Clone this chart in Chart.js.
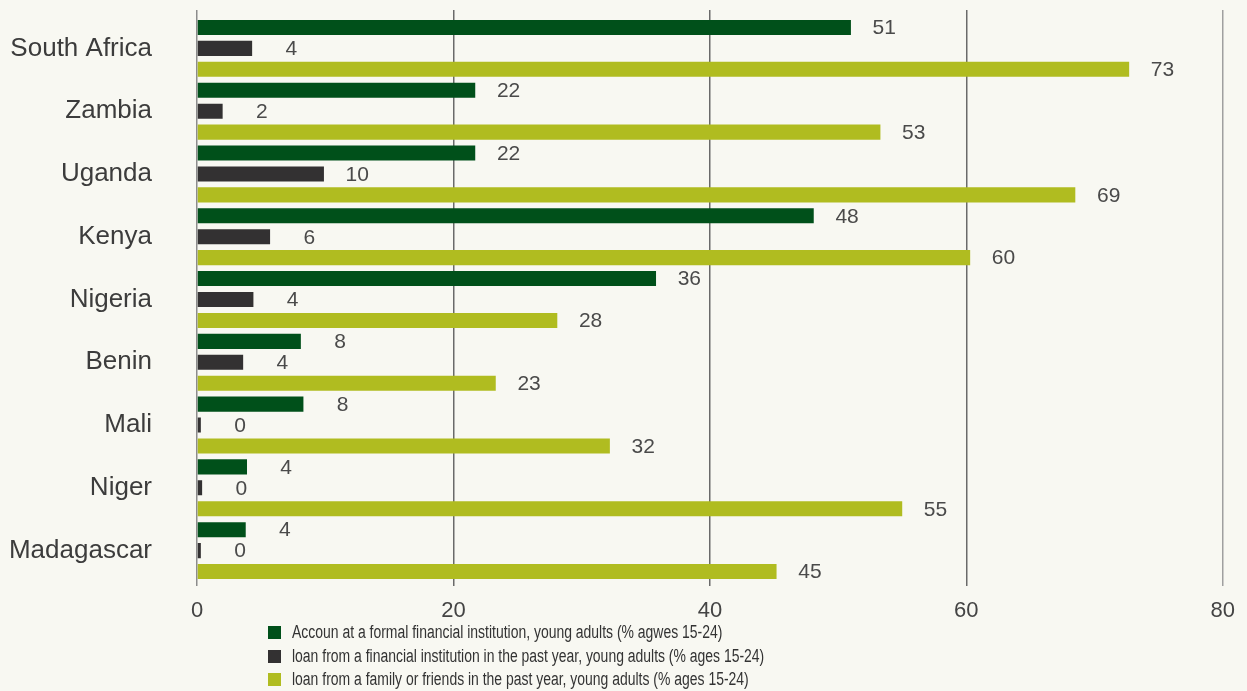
<!DOCTYPE html>
<html>
<head>
<meta charset="utf-8">
<script src="https://cdn.jsdelivr.net/npm/chart.js@4.4.1/dist/chart.umd.min.js"></script>
<style>
  html, body { margin: 0; padding: 0; background: #f8f8f2; }
  #wrap { position: relative; width: 1247px; height: 691px; overflow: hidden; }
  #chartBox { position: absolute; left: 0; top: 0; width: 1247px; height: 622px; }
  #legend { position: absolute; left: 268px; top: 621px; font-family: "Liberation Sans", Arial, sans-serif; font-size: 18px; color: #333; }
  #legend .item { height: 23.5px; display: flex; align-items: center; }
  #legend .box { width: 13px; height: 13px; margin-right: 11px; flex: none; }
  #legend .txt { display: inline-block; transform: scaleX(0.775); transform-origin: left center; white-space: nowrap; }
</style>
</head>
<body>
<div id="wrap">
  <div id="chartBox"><canvas id="chart"></canvas></div>
  <div id="legend"></div>
</div>
<script>
// Categories (top to bottom)
const countries = ["South Africa", "Zambia", "Uganda", "Kenya", "Nigeria", "Benin", "Mali", "Niger", "Madagascar"];

// Series values (% ages 15-24)
const accountFormal = [51.0, 21.7, 21.7, 48.1, 35.8, 8.1, 8.3, 3.9, 3.8];
const loanFinancial = [4.3, 2.0, 9.9, 5.7, 4.4, 3.6, 0.3, 0.4, 0.3];
const loanFamily = [72.7, 53.3, 68.5, 60.3, 28.1, 23.3, 32.2, 55.0, 45.2];

const seriesLabels = [
  "Accoun at a formal financial institution, young adults (% agwes 15-24)",
  "loan from a financial institution in the past year, young adults (% ages 15-24)",
  "loan from a family or friends in the past year, young adults (% ages 15-24)",
];
const seriesColors = ["#00501a", "#333132", "#b0bc20"];

// x axis ticks
const xTicks = [0, 20, 40, 60, 80];

const gridColor = (ctx) => {
  const v = ctx.tick ? ctx.tick.value : null;
  if (v === 0) return "#8c8c8c";
  if (v === 80) return "#a0a0a0";
  return "#6a6a6a";
};

// Draws the rounded value to the right of every bar
const valueLabels = {
  id: "valueLabels",
  afterDatasetsDraw(chart) {
    const ctx = chart.ctx;
    ctx.save();
    ctx.font = "21px 'Liberation Sans', Arial, sans-serif";
    ctx.fillStyle = "#4a4a4a";
    ctx.textAlign = "right";
    ctx.textBaseline = "middle";
    chart.data.datasets.forEach((ds, i) => {
      const meta = chart.getDatasetMeta(i);
      meta.data.forEach((bar, j) => {
        ctx.fillText(String(Math.round(ds.data[j])), bar.x + 45, bar.y + 1);
      });
    });
    ctx.restore();
  },
};

const data = {
  labels: countries,
  datasets: [
    { label: seriesLabels[0], data: accountFormal, backgroundColor: seriesColors[0] },
    { label: seriesLabels[1], data: loanFinancial, backgroundColor: seriesColors[1] },
    { label: seriesLabels[2], data: loanFamily, backgroundColor: seriesColors[2] },
  ],
};

const options = {
  indexAxis: "y",
  responsive: true,
  maintainAspectRatio: false,
  animation: false,
  layout: { padding: { top: 10, right: 24, left: 0, bottom: 0 } },
  datasets: { bar: { categoryPercentage: 1.0, barPercentage: 0.72 } },
  plugins: {
    legend: { display: false },
    tooltip: { enabled: false },
  },
  scales: {
    x: {
      min: 0,
      max: 80,
      position: "bottom",
      afterBuildTicks: (scale) => { scale.ticks = xTicks.map((v) => ({ value: v })); },
      afterFit: (scale) => { scale.height = 40; },
      border: { display: false },
      grid: { color: gridColor, lineWidth: 1.5, tickLength: 4 },
      ticks: {
        padding: 12,
        maxRotation: 0,
        color: "#444",
        font: { family: "'Liberation Sans', Arial, sans-serif", size: 22 },
      },
    },
    x2: {
      axis: "x",
      min: 0,
      max: 80,
      position: "top",
      afterBuildTicks: (scale) => { scale.ticks = xTicks.map((v) => ({ value: v })); },
      afterFit: (scale) => { scale.height = 7; },
      border: { display: false },
      grid: { color: gridColor, lineWidth: 1.5, tickLength: 7, drawOnChartArea: false },
      ticks: { display: false },
    },
    y: {
      afterFit: (scale) => { scale.width = 197; },
      border: { display: false },
      // hidden tick marks only push the labels 45px left of the axis
      grid: { display: false, drawTicks: true, tickLength: 45 },
      ticks: {
        padding: 0,
        color: "#3c3c3c",
        font: { family: "'Liberation Sans', Arial, sans-serif", size: 26 },
      },
    },
  },
};

new Chart(document.getElementById("chart"), {
  type: "bar",
  data,
  options,
  plugins: [valueLabels],
});

// HTML legend, one series per row
const legendEl = document.getElementById("legend");
seriesLabels.forEach((label, i) => {
  const item = document.createElement("div");
  item.className = "item";
  const box = document.createElement("span");
  box.className = "box";
  box.style.background = seriesColors[i];
  const text = document.createElement("span");
  text.className = "txt";
  text.textContent = label;
  item.appendChild(box);
  item.appendChild(text);
  legendEl.appendChild(item);
});
</script>
</body>
</html>
